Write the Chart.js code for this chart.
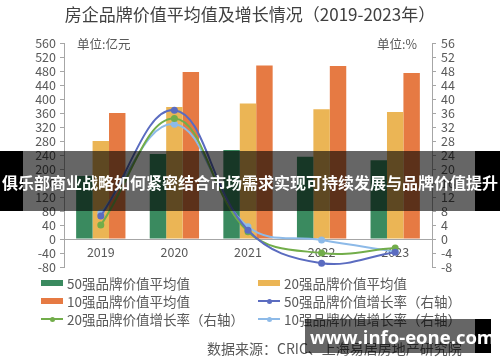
<!DOCTYPE html>
<html><head><meta charset="utf-8">
<script src="https://cdn.jsdelivr.net/npm/chart.js@4.4.1/dist/chart.umd.min.js"></script>
<style>
html,body{margin:0;padding:0;background:#fff;}
#wrap{position:relative;width:500px;height:362px;overflow:hidden;font-family:"Noto Sans CJK SC","Noto Sans",sans-serif;}
#c{position:absolute;left:0;top:0;}
.t{position:absolute;white-space:nowrap;color:#595959;}
#title{left:0;width:500px;top:3px;text-align:center;font-size:17px;color:#404040;line-height:22px;}
#ul{left:77px;top:35px;font-size:12.5px;line-height:18px;}
#ur{left:377px;top:35px;font-size:12.5px;line-height:18px;}
#legend .it{position:absolute;font-size:13.5px;line-height:18px;color:#595959;white-space:nowrap;}
#legend .mk{display:inline-block;position:relative;width:22px;height:18px;vertical-align:top;margin-right:4px;}
#src{left:207px;top:338px;font-size:14px;line-height:20px;}
#banner{position:absolute;left:0;top:151px;width:500px;height:60px;}
#banner .bl{position:absolute;top:0;height:60px;background:#000;}
#banner .mid{position:absolute;left:23px;width:452px;top:0;height:60px;background:rgba(0,0,0,0.6);}
#banner .tx{position:absolute;left:0;width:500px;top:0;line-height:62px;text-align:center;color:#fff;font-weight:bold;font-size:16px;}
#wm{position:absolute;left:305px;top:319px;width:170px;height:34px;background:rgba(0,0,0,0.6);}
#wmb{position:absolute;left:475px;top:319px;width:16px;height:34px;background:#000;}
#wmt{position:absolute;left:310px;top:319px;width:175px;line-height:36px;text-align:center;color:#fff;font-weight:bold;font-size:18.5px;font-family:"Open Sans","DejaVu Sans",sans-serif;white-space:nowrap;}
</style></head>
<body>
<div id="wrap">
<canvas id="c" width="500" height="362"></canvas>
<div class="t" id="title">房企品牌价值平均值及增长情况（2019-2023年）</div>
<div class="t" id="ul">单位:亿元</div>
<div class="t" id="ur">单位:%</div>
<div id="legend"></div>
<div class="t" id="src">数据来源：CRIC、上海易居房地产研究院</div>
<div id="banner"><div class="bl" style="left:0;width:23px"></div><div class="mid"></div><div class="bl" style="left:475px;width:25px"></div><div class="tx">俱乐部商业战略如何紧密结合市场需求实现可持续发展与品牌价值提升</div></div>
<div id="wm"></div><div id="wmb"></div><div id="wmt">www.info-eone.com</div>
</div>
<script>
const categories = ["2019","2020","2021","2022","2023"];
const avg50 = [180, 243, 254, 235, 225];
const avg20 = [280, 377, 387, 371, 363];
const avg10 = [360, 477, 496, 494, 474];
const growth50 = [6.6, 36.8, 2.5, -6.9, -3.8];
const growth20 = [4.0, 34.4, 2.1, -4.0, -2.6];
const growth10 = [7.4, 32.8, 3.5, -0.3, -3.6];
const leftTicks = {min:-80, max:560, step:40};
const rightTicks = {min:-8, max:56, step:4};
const names = ["50强品牌价值平均值","20强品牌价值平均值","10强品牌价值平均值","50强品牌价值增长率（右轴）","20强品牌价值增长率（右轴）","10强品牌价值增长率（右轴）"];

const C = {g:"#3a8a5f", y:"#ebb555", o:"#e67a43", lb:"#5b6cc0", lg:"#72ad4a", ll:"#8dbae8"};
const font = {family:'"Noto Sans CJK SC","Noto Sans",sans-serif', size:12.5};
const axisGray = "#a6a6a6";

function lineDs(label, data, color){
  return {type:'line', label, data, yAxisID:'y1', borderColor:color, backgroundColor:color,
    borderWidth:2, pointRadius:2.5, pointHoverRadius:2.5, tension:0.4, order:0, fill:false};
}
function barDs(label, data, color){
  return {type:'bar', label, data, yAxisID:'y', backgroundColor:color, borderWidth:0, order:1,
    categoryPercentage:0.67, barPercentage:1.0};
}
const datasets = [
  barDs(names[0], avg50, C.g),
  barDs(names[1], avg20, C.y),
  barDs(names[2], avg10, C.o),
  lineDs(names[3], growth50, C.lb),
  lineDs(names[4], growth20, C.lg),
  lineDs(names[5], growth10, C.ll)
];

const chart = new Chart(document.getElementById('c'), {
  data:{labels:categories, datasets},
  options:{
    responsive:false, animation:false, devicePixelRatio:1,
    layout:{padding:{top:43, bottom:95, left:0, right:0}},
    plugins:{legend:{display:false}, tooltip:{enabled:false}},
    scales:{
      x:{type:'category', position:{y:0}, offset:true,
        grid:{display:false}, border:{display:true, color:axisGray, width:1},
        ticks:{color:'#595959', font:font, padding:-2}},
      y:{position:'left', min:leftTicks.min, max:leftTicks.max,
        ticks:{stepSize:leftTicks.step, color:'#595959', font:font, padding:4, autoSkip:false},
        grid:{display:true, drawOnChartArea:false, drawTicks:true, tickLength:4, color:axisGray},
        border:{display:true, color:axisGray, width:1},
        afterFit(s){ s.width = 64; s.paddingTop = 0; s.paddingBottom = 0; }},
      y1:{position:'right', min:rightTicks.min, max:rightTicks.max,
        ticks:{stepSize:rightTicks.step, color:'#595959', font:font, padding:5, autoSkip:false},
        grid:{display:true, drawOnChartArea:false, drawTicks:true, tickLength:4, color:axisGray},
        border:{display:true, color:axisGray, width:1},
        afterFit(s){ s.width = 68; s.paddingTop = 0; s.paddingBottom = 0; }}
    }
  }
});

// HTML legend built from the chart's datasets
const pos = [[41,274],[258,274],[41,292],[258,292],[41,310],[258,310]];
const lg = document.getElementById('legend');
chart.data.datasets.forEach((ds,i)=>{
  const d = document.createElement('div');
  d.className='it'; d.style.left=pos[i][0]+'px'; d.style.top=pos[i][1]+'px';
  const m = document.createElement('span'); m.className='mk';
  if (ds.type==='bar'){
    m.innerHTML = '<span style="position:absolute;left:0;top:6px;width:22px;height:6px;background:'+ds.backgroundColor+'"></span>';
  } else {
    m.innerHTML = '<span style="position:absolute;left:0;top:8px;width:22px;height:2px;background:'+ds.borderColor+'"></span>'+
      '<span style="position:absolute;left:9px;top:6.5px;width:5px;height:5px;border-radius:50%;background:'+ds.borderColor+'"></span>';
  }
  d.appendChild(m);
  d.appendChild(document.createTextNode(ds.label));
  lg.appendChild(d);
});
</script>
</body></html>
